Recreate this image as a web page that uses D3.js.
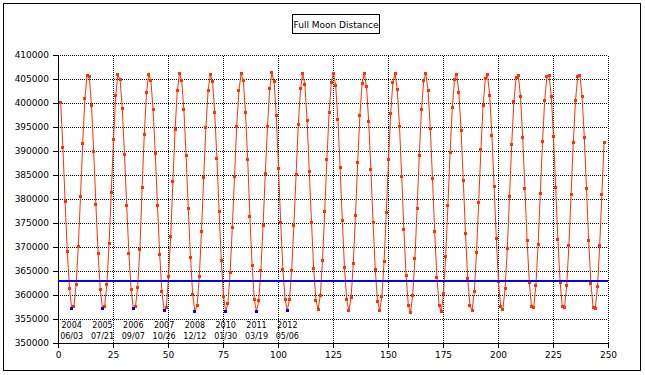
<!DOCTYPE html>
<html>
<head>
<meta charset="utf-8">
<script src="https://cdn.jsdelivr.net/npm/d3@7"></script>
<style>
body { margin: 0; background: #fff; }
text { font-family: "DejaVu Sans", sans-serif; fill: #000; }
</style>
</head>
<body>
<div id="chart"></div>
<script>
// distance (km) at each full moon, full moon no. 1 .. 248
var distance = [
  400150, 390780, 379610, 369140, 361450, 357280, 357620, 362280, 370180, 380650, 391610, 400980, 405890, 405550,
  399500, 390010, 378920, 368790, 361240, 357280, 357760, 362340, 370870, 381540, 392570, 401660, 405970, 404930,
  398900, 389320, 378720, 368730, 361240, 357280, 357760, 361710, 369560, 382520, 393550, 402230, 406100, 404790,
  398690, 389530, 378720, 368580, 360880, 356900, 357490, 363900, 372330, 383710, 394590, 402700, 406180, 404790,
  398690, 389120, 378090, 367890, 360200, 356660, 357910, 363860, 373430, 384540, 394940, 402640, 405970, 404640,
  398190, 388620, 377590, 367270, 359840, 356660, 358320, 364690, 374140, 384750, 395150, 402640, 406180, 404790,
  398060, 388290, 376490, 366290, 359160, 356660, 358860, 365250, 374680, 385370, 395280, 403120, 406390, 404500,
  397400, 386540, 375180, 365400, 359160, 356930, 359160, 365310, 374680, 385230, 395630, 403060, 406180, 403890,
  396400, 385790, 375240, 365530, 359040, 357070, 360010, 367270, 377400, 388390, 398040, 404420, 406300, 403720,
  396710, 386690, 375650, 365790, 359080, 356860, 359570, 366670, 376740, 387780, 397580, 404190, 406300, 403470,
  396280, 386150, 375110, 365370, 358850, 356870, 359820, 367110, 377290, 388320, 398000, 404420, 406230, 402900,
  395260, 384860, 373750, 364160, 358000, 356500, 359960, 367680, 378130, 389230, 398750, 404810, 406180, 402610,
  394810, 384330, 373270, 363830, 357890, 356640, 360330, 368220, 378740, 389780, 399150, 404990, 406120, 402330,
  394390, 383880, 372890, 363620, 357920, 356920, 360830, 368860, 379410, 390380, 399580, 405170, 405960, 401710,
  393430, 382780, 371870, 362890, 357630, 357130, 361500, 369860, 380540, 391430, 400330, 405490, 405860, 401400,
  393000, 382340, 371540, 362750, 357740, 357490, 362060, 370540, 381230, 392000, 400710, 405620, 405900, 401480,
  393080, 382400, 371600, 362800, 357760, 357490, 362000, 370450, 381120, 391900, 400640, 405600, 405850, 401380,
  392940, 382240, 371390, 362570, 357530, 357280, 361870, 370380, 381120, 391940
];

// closest full moons that got a label
var perigeeMoon = [6, 20, 34, 48, 62, 76, 90, 104];
var perigeeYear = ["2004", "2005", "2006", "2007", "2008", "2010", "2011", "2012"];
var perigeeDate = ["06/03", "07/21", "09/07", "10/26", "12/12", "01/30", "03/19", "05/06"];

var referenceLine = 363000;

var xTicks = [0, 25, 50, 75, 100, 125, 150, 175, 200, 225, 250];
var yTicks = [350000, 355000, 360000, 365000, 370000, 375000, 380000, 385000, 390000, 395000, 400000, 405000, 410000];

var svg = d3.select("#chart").append("svg").attr("width", 645).attr("height", 375);

svg.append("rect").attr("x", 3.5).attr("y", 3.5).attr("width", 637).attr("height", 367)
  .attr("fill", "none").attr("stroke", "#000");

var x = d3.scaleLinear().domain([0, 250]).range([58, 608]);
var y = d3.scaleLinear().domain([350000, 410000]).range([343, 55]);

// dotted grid
svg.append("g").attr("transform", "translate(0,343)")
  .call(d3.axisBottom(x).tickValues(xTicks.slice(1)).tickSize(-288).tickFormat(""))
  .call(g => g.select(".domain").remove())
  .selectAll("line").attr("stroke", "#000").attr("stroke-dasharray", "1,1").attr("shape-rendering", "crispEdges");

svg.append("g").attr("transform", "translate(58,0)")
  .call(d3.axisLeft(y).tickValues(yTicks.slice(1)).tickSize(-550).tickFormat(""))
  .call(g => g.select(".domain").remove())
  .selectAll("line").attr("stroke", "#000").attr("stroke-dasharray", "1,1").attr("shape-rendering", "crispEdges");

// axes
var xAxis = svg.append("g").attr("transform", "translate(0,343)")
  .call(d3.axisBottom(x).tickValues(xTicks).tickSize(5).tickSizeOuter(0).tickPadding(4));
var yAxis = svg.append("g").attr("transform", "translate(58,0)")
  .call(d3.axisLeft(y).tickValues(yTicks).tickSize(5).tickSizeOuter(0).tickPadding(4).tickFormat(d3.format("d")));

[xAxis, yAxis].forEach(function (a) {
  a.selectAll("path, line").attr("stroke", "#000").attr("shape-rendering", "crispEdges");
  a.selectAll("text").style("font-size", "9px").style("font-family", "DejaVu Sans, sans-serif").attr("fill", "#000");
});

var series = distance.map(function (d, i) { return [i + 1, d]; });

var line = d3.line().x(function (d) { return x(d[0]) + 0.5; }).y(function (d) { return y(d[1]) + 0.5; });

svg.append("path").datum(series).attr("d", line)
  .attr("fill", "none").attr("stroke", "#ff3300").attr("stroke-width", 1);

svg.selectAll(".moon").data(series).enter().append("rect").attr("class", "moon")
  .attr("x", function (d) { return Math.round(x(d[0])) - 1; })
  .attr("y", function (d) { return Math.round(y(d[1])) - 1; })
  .attr("width", 3).attr("height", 3)
  .attr("fill", "#ff3300");

svg.append("line")
  .attr("x1", x(0)).attr("x2", x(250))
  .attr("y1", y(referenceLine) + 0.5).attr("y2", y(referenceLine) + 0.5)
  .attr("stroke", "#0000ff").attr("stroke-width", 2);

svg.selectAll(".perigee").data(perigeeMoon).enter().append("rect").attr("class", "perigee")
  .attr("x", function (d) { return Math.round(x(d)) - 1; })
  .attr("y", function (d) { return Math.round(y(distance[d - 1])) - 1; })
  .attr("width", 3).attr("height", 3)
  .attr("fill", "#0000ff");

svg.selectAll(".yearLabel").data(perigeeMoon).enter().append("text").attr("class", "yearLabel")
  .attr("x", function (d) { return x(d) + 0.5; })
  .attr("y", 328)
  .attr("text-anchor", "middle").style("font-size", "8px")
  .text(function (d, i) { return perigeeYear[i]; });

svg.selectAll(".dateLabel").data(perigeeMoon).enter().append("text").attr("class", "dateLabel")
  .attr("x", function (d) { return x(d) + 0.5; })
  .attr("y", 339)
  .attr("text-anchor", "middle").style("font-size", "8px")
  .text(function (d, i) { return perigeeDate[i]; });

// title box
svg.append("rect").attr("x", 292.5).attr("y", 14.5).attr("width", 87).attr("height", 19)
  .attr("fill", "#fff").attr("stroke", "#000");
svg.append("text").attr("x", 336).attr("y", 28).attr("text-anchor", "middle")
  .style("font-size", "9px").text("Full Moon Distance");
</script>
</body>
</html>
